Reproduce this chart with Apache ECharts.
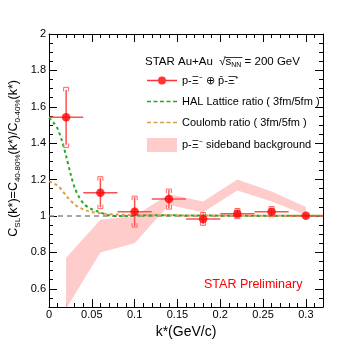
<!DOCTYPE html>
<html><head><meta charset="utf-8">
<script src="https://cdn.jsdelivr.net/npm/echarts@6/dist/echarts.min.js"></script>
<style>html,body{margin:0;padding:0;background:#fff}#c{width:354px;height:341px}</style>
</head><body><div id="c"></div>
<script>
// ---- data ----
const kStar      = [0.02, 0.06, 0.10, 0.14, 0.18, 0.22, 0.26, 0.30];
const cslRatio   = [1.542, 1.128, 1.024, 1.093, 0.984, 1.013, 1.024, 1.001];
const kErr       = [0.02, 0.02, 0.02, 0.02, 0.02, 0.02, 0.02, 0.02];
const statErr    = [0.15, 0.08, 0.08, 0.05, 0.03, 0.02, 0.02, 0.01];
const sysErr     = [0.165, 0.088, 0.085, 0.055, 0.035, 0.028, 0.028, 0];

const bandK      = [0.02, 0.06, 0.10, 0.14, 0.18, 0.22, 0.26, 0.30];
const bandLow    = [0.49, 0.80, 0.85, 1.06, 1.02, 1.14, 1.08, 1.005];
const bandHigh   = [0.77, 0.98, 1.00, 1.12, 1.08, 1.20, 1.135, 1.05];

const curveK       = [0, 0.005, 0.01, 0.015, 0.02, 0.025, 0.03, 0.035, 0.04, 0.045, 0.05, 0.055, 0.06, 0.065, 0.07, 0.08, 0.09, 0.10, 0.12, 0.14, 0.16, 0.18, 0.20, 0.22, 0.24, 0.26, 0.28, 0.30, 0.32];
const halRatio     = [1.54, 1.515, 1.48, 1.415, 1.33, 1.235, 1.155, 1.105, 1.07, 1.05, 1.037, 1.028, 1.02, 1.01, 1.004, 1.0, 1.0, 1.002, 1.004, 1.004, 1.003, 1.003, 1.002, 1.002, 1.002, 1.001, 1.001, 1.001, 1.001];
const coulombRatio = [1.19, 1.18, 1.167, 1.143, 1.112, 1.085, 1.063, 1.047, 1.037, 1.028, 1.022, 1.018, 1.015, 1.012, 1.01, 1.008, 1.006, 1.005, 1.004, 1.004, 1.003, 1.003, 1.003, 1.002, 1.002, 1.002, 1.002, 1.001, 1.001];

const xTicks = [0, 0.05, 0.10, 0.15, 0.20, 0.25, 0.30];
const yTicks = [0.6, 0.8, 1.0, 1.2, 1.4, 1.6, 1.8, 2.0];

const nameData = 'p-\u039E\u207B \u2295 p\u0304-\u039E\u0304\u207A';
const nameHAL = 'HAL Lattice ratio ( 3fm/5fm )';
const nameCoul = 'Coulomb ratio ( 3fm/5fm )';
const nameBand = 'p-\u039E\u207B sideband background';

// ---- style ----
const F = 'Liberation Sans, Arial, Helvetica, sans-serif';
const RED = '#ff0000', ERR = '#ff5050', SYS = '#ff6060', PINK = '#ffcccc';
const GREEN = '#22aa22', GOLD = '#d4a24c';
const X0 = 0, X1 = 0.32, Y0 = 0.5, Y1 = 2.0;
const TICK = { color: '#000', width: 1 };

const mctx = document.createElement('canvas').getContext('2d');
function tw(t, s) { mctx.font = s + 'px "Liberation Sans", Arial, sans-serif'; return mctx.measureText(t).width; }

function xAx(pos, withLabel) {
  const o = {
    type: 'value', gridIndex: 0, position: pos, min: X0, max: X1,
    interval: 0.05,
    axisLine: { show: true, onZero: false, lineStyle: { color: '#000', width: 1 } },
    axisTick: { show: true, inside: true, length: 8, lineStyle: TICK },
    minorTick: { show: true, splitNumber: 5, length: 4, lineStyle: TICK },
    axisLabel: withLabel ? { show: true, customValues: xTicks, margin: 2, fontSize: 11, color: '#000', fontFamily: F } : { show: false },
    splitLine: { show: false }, minorSplitLine: { show: false }
  };
  if (withLabel) {
    o.name = 'k*(GeV/c)'; o.nameLocation = 'middle'; o.nameGap = 15;
    o.nameTextStyle = { fontSize: 14, color: '#000', fontFamily: F };
  }
  return o;
}
function yAx(pos, major, withLabel) {
  return {
    type: 'value', gridIndex: 0, position: pos, min: Y0, max: Y1,
    interval: 0.05,
    axisLine: { show: !major, onZero: false, lineStyle: { color: '#000', width: 1 } },
    axisTick: major ? { show: true, inside: true, length: 8, customValues: yTicks, lineStyle: TICK }
                    : { show: true, inside: true, length: 4, lineStyle: TICK },
    axisLabel: withLabel ? { show: true, customValues: yTicks, margin: 3, fontSize: 11, color: '#000', fontFamily: F } : { show: false },
    splitLine: { show: false }
  };
}
function dashIcon() {
  let p = 'path://';
  for (let i = 0; i < 5; i++) { const a = i * 6.5; p += 'M' + a + ',0H' + (a + 4) + 'V1.6H' + a + 'Z'; }
  return p;
}

// overline of the square root in the energy label
const starX = 145, starTop = 56, starFs = 11.5;
const rootStart = starX + tw('STAR Au+Au  \u221A', starFs) - 0.5;
const rootEnd = starX + tw('STAR Au+Au  \u221As', starFs) + tw('NN', 7) + 1;

const chart = echarts.init(document.getElementById('c'), null, { renderer: 'canvas' });
chart.setOption({
  animation: false,
  backgroundColor: '#fff',
  grid: { left: 49, top: 34, width: 274, height: 273, containLabel: false, outerBoundsMode: 'none' },
  xAxis: [xAx('bottom', true), xAx('top', false)],
  yAxis: [yAx('left', false, true), yAx('left', true, false), yAx('right', false, false), yAx('right', true, false)],
  legend: {
    left: 147, top: 75, orient: 'vertical', padding: 0,
    itemWidth: 30, itemHeight: 14, itemGap: 10, selectedMode: false,
    textStyle: { fontSize: 11, color: '#000', fontFamily: F },
    data: [
      { name: nameData, icon: 'path://M0,4.3H30V5.7H0Z M19,5A4,4,0,1,1,11,5A4,4,0,1,1,19,5Z' },
      { name: nameHAL, icon: dashIcon(), itemStyle: { color: GREEN } },
      { name: nameCoul, icon: dashIcon(), itemStyle: { color: GOLD } },
      { name: nameBand, icon: 'rect', itemStyle: { color: PINK } }
    ]
  },
  graphic: [
    { type: 'text', x: 14, y: 80, rotation: Math.PI / 2, z: 10,
      style: { text: '{m|C}{s|SL}{m|(k*)=C}{s|40-80%}{m|(k*)/C}{s|0-40%}{m|(k*)}', align: 'right', verticalAlign: 'middle',
        rich: { m: { fontSize: 12.5, fontFamily: F, fill: '#000' }, s: { fontSize: 8, fontFamily: F, fill: '#000', padding: [7, 0, 0, 0] } } } },
    { type: 'text', left: starX, top: starTop, z: 10,
      style: { text: '{t|STAR Au+Au  \u221A}{t|s}{u|NN}{t| = 200 GeV}', fill: '#000',
        rich: { t: { fontSize: starFs, fontFamily: F, fill: '#000' }, u: { fontSize: 7, fontFamily: F, fill: '#000', padding: [6, 0, 0, 0] } } } },
    { type: 'line', z: 10, shape: { x1: rootStart, y1: starTop + 1.5, x2: rootEnd, y2: starTop + 1.5 }, style: { stroke: '#000', lineWidth: 0.8 } },
    { type: 'text', left: 204, top: 278, z: 10,
      style: { text: 'STAR Preliminary', fill: '#ff0000', fontSize: 12.5, fontFamily: F } }
  ],
  series: [
    {
      name: nameBand, type: 'custom', xAxisIndex: 0, yAxisIndex: 0, clip: true, z: 1,
      itemStyle: { color: PINK },
      data: bandK.map((k, i) => [k, bandLow[i], bandHigh[i]]),
      encode: { x: 0, y: [1, 2] },
      renderItem: function (params, api) {
        if (params.dataIndex !== 0) return null;
        const pts = [];
        for (let i = 0; i < bandK.length; i++) pts.push(api.coord([bandK[i], bandHigh[i]]));
        for (let i = bandK.length - 1; i >= 0; i--) pts.push(api.coord([bandK[i], bandLow[i]]));
        return { type: 'polygon', shape: { points: pts }, style: { fill: PINK, stroke: null } };
      }
    },
    {
      name: nameHAL, type: 'line', xAxisIndex: 0, yAxisIndex: 0, z: 3,
      data: curveK.map((k, i) => [k, halRatio[i]]),
      symbol: 'none', showSymbol: false, smooth: 0.3, color: GREEN,
      lineStyle: { color: GREEN, width: 2, type: [3, 3] },
      markLine: {
        silent: true, symbol: 'none', label: { show: false }, z: 2,
        lineStyle: { color: '#888', width: 1.5, type: [5, 4] },
        data: [{ yAxis: 1 }]
      }
    },
    {
      name: nameCoul, type: 'line', xAxisIndex: 0, yAxisIndex: 0, z: 3,
      data: curveK.map((k, i) => [k, coulombRatio[i]]),
      symbol: 'none', showSymbol: false, smooth: 0.3, color: GOLD,
      lineStyle: { color: GOLD, width: 2, type: [3, 3] }
    },
    {
      name: 'errors', type: 'custom', xAxisIndex: 0, yAxisIndex: 0, z: 4,
      data: kStar.map((k, i) => [k, cslRatio[i], kErr[i], statErr[i], sysErr[i]]),
      encode: { x: 0, y: 1 },
      renderItem: function (params, api) {
        const k = api.value(0), y = api.value(1), ex = api.value(2), es = api.value(3), esy = api.value(4);
        const c = api.coord([k, y]);
        const l = api.coord([k - ex, y]), r = api.coord([k + ex, y]);
        const t = api.coord([k, y + es]), b = api.coord([k, y - es]);
        const ch = [
          { type: 'line', shape: { x1: l[0], y1: c[1], x2: r[0], y2: c[1] }, style: { stroke: ERR, lineWidth: 1.5 } },
          { type: 'line', shape: { x1: c[0], y1: t[1], x2: c[0], y2: b[1] }, style: { stroke: ERR, lineWidth: 1.5 } }
        ];
        if (esy > 0) {
          const st = api.coord([k, y + esy]), sb = api.coord([k, y - esy]);
          const w = 2.5, h = 4;
          ch.push({ type: 'polyline', shape: { points: [[c[0] - w, st[1] + h], [c[0] - w, st[1]], [c[0] + w, st[1]], [c[0] + w, st[1] + h]] }, style: { stroke: SYS, fill: null, lineWidth: 1 } });
          ch.push({ type: 'polyline', shape: { points: [[c[0] - w, sb[1] - h], [c[0] - w, sb[1]], [c[0] + w, sb[1]], [c[0] + w, sb[1] - h]] }, style: { stroke: SYS, fill: null, lineWidth: 1 } });
        }
        return { type: 'group', children: ch };
      }
    },
    {
      name: nameData, type: 'scatter', xAxisIndex: 0, yAxisIndex: 0, z: 5,
      data: kStar.map((k, i) => [k, cslRatio[i]]),
      symbol: 'circle', symbolSize: 8.5, color: RED,
      itemStyle: { color: RED }
    }
  ]
});
</script>
</body></html>
